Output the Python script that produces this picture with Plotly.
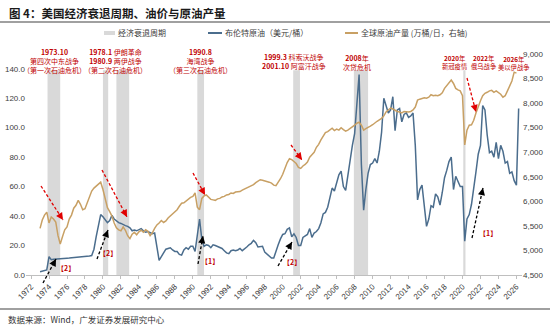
import plotly.graph_objects as go
import pandas as pd

# ---------------- data ----------------
dates = pd.date_range("1973-01-01", "2026-04-01", freq="QS")

brent = [
    2.2, 2.5, 2.9, 3.4,        # 1973
    12.4, 10.4, 10.7, 10.9,    # 1974
    10.6, 10.9, 11.1, 11.3,    # 1975
    11.4, 11.5, 11.6, 11.7,    # 1976
    12.3, 12.4, 12.5, 12.6,    # 1977
    12.7, 12.8, 12.9, 13.2,    # 1978
    17.5, 26.0, 34.0, 41.0,    # 1979
    39.5, 37.5, 35.5, 37.0,    # 1980
    40.5, 38.0, 36.5, 35.5,    # 1981
    35.0, 34.0, 33.5, 33.0,    # 1982
    32.0, 30.0, 30.5, 30.0,    # 1983
    30.5, 31.5, 30.0, 29.0,    # 1984
    29.5, 28.5, 28.0, 28.5,    # 1985
    18.0, 10.0, 12.5, 15.0,    # 1986
    17.5, 18.0, 18.5, 17.0,    # 1987
    16.0, 16.0, 14.0, 13.5,    # 1988
    17.0, 18.5, 17.5, 19.5,    # 1989
    19.5, 16.0, 26.0, 38.0,    # 1990
    24.0, 19.5, 20.5, 20.0,    # 1991
    18.5, 20.5, 20.0, 19.5,    # 1992
    18.5, 18.0, 16.5, 15.0,    # 1993
    14.5, 16.5, 17.0, 16.5,    # 1994
    17.0, 18.0, 16.5, 17.5,    # 1995
    19.0, 20.5, 21.5, 23.5,    # 1996
    22.0, 19.0, 19.5, 19.5,    # 1997
    15.5, 14.0, 12.5, 11.5,    # 1998
    11.5, 16.5, 20.5, 24.5,    # 1999
    27.5, 28.0, 31.0, 32.0,    # 2000
    26.0, 28.0, 25.5, 20.0,    # 2001
    20.0, 25.5, 26.5, 27.5,    # 2002
    31.5, 25.5, 28.5, 29.5,    # 2003
    31.5, 35.5, 41.5, 42.5,    # 2004
    46.0, 52.0, 59.0, 57.0,    # 2005
    62.0, 68.0, 70.5, 60.0,    # 2006
    57.5, 68.0, 75.5, 88.0,    # 2007
    96.0, 120.0, 136.0, 75.0,  # 2008
    44.0, 58.0, 69.0, 75.0,    # 2009
    76.0, 79.0, 76.0, 84.0,    # 2010
    97.0, 120.0, 114.0, 110.0, # 2011
    112.0, 121.0, 98.0, 112.0, # 2012
    113.0, 104.0, 109.0, 110.0,# 2013
    107.0, 108.0, 110.0, 88.0, # 2014
    51.0, 58.0, 61.0, 46.0,    # 2015
    33.0, 38.0, 47.0, 46.0,    # 2016
    55.0, 53.0, 47.5, 56.0,    # 2017
    66.0, 71.0, 77.0, 80.0,    # 2018
    58.0, 67.0, 63.0, 60.0,    # 2019
    60.0, 23.0, 38.0, 41.0,    # 2020
    48.0, 58.0, 70.0, 82.0,    # 2021
    88.0, 115.0, 112.0, 95.0,  # 2022
    83.0, 84.0, 80.0, 90.0,    # 2023
    79.0, 88.0, 84.0, 76.0,    # 2024
    77.0, 69.0, 70.0, 64.0,    # 2025
    61.0, 113.0,               # 2026
]

output = [
    5450, 5620, 5720, 5780,  # 1973
    5560, 5680, 5640, 5580,  # 1974
    5300, 5130, 5280, 5420,  # 1975
    5480, 5640, 5720, 5860,  # 1976
    5920, 6020, 5940, 5830,  # 1977
    5850, 5980, 6080, 6210,  # 1978
    6270, 6310, 6350, 6390,  # 1979
    6240, 6080, 5870, 5790,  # 1980
    5700, 5560, 5460, 5420,  # 1981
    5400, 5480, 5410, 5300,  # 1982
    5240, 5330, 5370, 5320,  # 1983
    5380, 5410, 5370, 5420,  # 1984
    5390, 5300, 5360, 5450,  # 1985
    5520, 5560, 5610, 5570,  # 1986
    5600, 5660, 5700, 5760,  # 1987
    5800, 5830, 5900, 5960,  # 1988
    5970, 6010, 6050, 6080,  # 1989
    6100, 6170, 5880, 5830,  # 1990
    6060, 6110, 6130, 6080,  # 1991
    6040, 6030, 6020, 6050,  # 1992
    6060, 6090, 6100, 6130,  # 1993
    6140, 6170, 6160, 6190,  # 1994
    6190, 6200, 6230, 6250,  # 1995
    6270, 6300, 6320, 6340,  # 1996
    6380, 6420, 6440, 6430,  # 1997
    6420, 6400, 6390, 6370,  # 1998
    6330, 6320, 6380, 6460,  # 1999
    6550, 6680, 6790, 6870,  # 2000
    6850, 6810, 6770, 6690,  # 2001
    6670, 6720, 6750, 6800,  # 2002
    6900, 6950, 7000, 7100,  # 2003
    7160, 7250, 7340, 7400,  # 2004
    7420, 7450, 7490, 7440,  # 2005
    7470, 7450, 7500, 7460,  # 2006
    7430, 7450, 7480, 7520,  # 2007
    7550, 7590, 7610, 7550,  # 2008
    7450, 7480, 7500, 7530,  # 2009
    7560, 7600, 7630, 7660,  # 2010
    7690, 7740, 7820, 7860,  # 2011
    7900, 7880, 7850, 7830,  # 2012
    7820, 7800, 7830, 7820,  # 2013
    7820, 7830, 7860, 7920,  # 2014
    8060, 8080, 8100, 8110,  # 2015
    8100, 8120, 8170, 8150,  # 2016
    8160, 8150, 8170, 8210,  # 2017
    8300, 8350, 8410, 8470,  # 2018
    8400, 8300, 8270, 8250,  # 2019
    8150, 7150, 7450, 7550,  # 2020
    7560, 7650, 7800, 7950,  # 2021
    8050, 8150, 8200, 8220,  # 2022
    8250, 8260, 8220, 8250,  # 2023
    8210, 8180, 8120, 8150,  # 2024
    8250, 8350, 8450, 8630,  # 2025
    8610, None,              # 2026
]

rec_start = ["1973-11-01", "1980-01-01", "1981-07-01", "1990-07-01",
             "2001-03-01", "2007-12-01", "2020-02-01"]
rec_end = ["1975-04-01", "1980-08-01", "1982-12-01", "1991-04-01",
           "2001-12-01", "2009-07-01", "2020-05-01"]
rec_top = 139

tick_years = list(range(1972, 2027, 2))
left_ticks = [0, 20, 40, 60, 80, 100, 120, 140]
right_ticks = list(range(4500, 9001, 500))

title_text = "图 4：美国经济衰退周期、油价与原油产量"
source_text = "数据来源：Wind，广发证券发展研究中心"
legend_labels = ["经济衰退周期", "布伦特原油（美元/桶）", "全球原油产量 (万桶/日，右轴)"]

# ---------------- style ----------------
BLUE = "#4B6D8D"
GOLD = "#C8A064"
GRAY = "#D9D9D9"
RED = "#C00000"
CJK = "Noto Sans CJK SC, Liberation Sans, sans-serif"
LAT = "Liberation Sans, Arial, sans-serif"

W, H = 550, 327
L, R, T, B = 26, 28, 54, 52
PW, PH = W - L - R, H - T - B


def px(x):
    return (x - L) / PW


def py(y):
    return (H - B - y) / PH


fig = go.Figure()
fig.add_trace(go.Scatter(x=dates, y=brent, mode="lines", name=legend_labels[1],
                         line=dict(color=BLUE, width=1.5), showlegend=False))
fig.add_trace(go.Scatter(x=dates, y=output, mode="lines", name=legend_labels[2],
                         yaxis="y2", line=dict(color=GOLD, width=1.5), showlegend=False))

shapes = []
for s, e in zip(rec_start, rec_end):
    shapes.append(dict(type="rect", xref="x", yref="y", x0=s, x1=e, y0=0, y1=rec_top,
                       fillcolor=GRAY, line=dict(width=0), layer="below"))

# title / footer rules
shapes.append(dict(type="line", xref="paper", yref="paper", x0=px(0), x1=px(W),
                   y0=py(22), y1=py(22), line=dict(color="#808080", width=1.5)))
shapes.append(dict(type="line", xref="paper", yref="paper", x0=px(0), x1=px(W),
                   y0=py(309), y1=py(309), line=dict(color="#808080", width=1.5)))

# legend (manual)
shapes.append(dict(type="rect", xref="paper", yref="paper", x0=px(104), x1=px(115),
                   y0=py(35), y1=py(31), fillcolor=GRAY, line=dict(width=0)))
shapes.append(dict(type="line", xref="paper", yref="paper", x0=px(208), x1=px(222),
                   y0=py(33), y1=py(33), line=dict(color=BLUE, width=2)))
shapes.append(dict(type="line", xref="paper", yref="paper", x0=px(345), x1=px(358),
                   y0=py(33), y1=py(33), line=dict(color=GOLD, width=2)))

annotations = []


def text(t, x, y, size=7, color=RED, xanchor="center", family=CJK):
    annotations.append(dict(text=t, x=px(x), y=py(y), xref="paper", yref="paper",
                            showarrow=False, xanchor=xanchor, yanchor="middle",
                            align="center", font=dict(size=size, color=color, family=family)))


text("<b>" + title_text + "</b>", 7, 13, size=11.5, color="#1A1A1A", xanchor="left")
text(source_text, 6, 319, size=8.5, color="#333333", xanchor="left")
text(legend_labels[0], 116, 33, size=8, color="#404040", xanchor="left")
text(legend_labels[1], 223, 33, size=8, color="#404040", xanchor="left")
text(legend_labels[2], 359, 33, size=8, color="#404040", xanchor="left")

text("<b>1973.10</b><br>第四次中东战争<br>（第一次石油危机）", 54, 61)
text("<b>1978.1</b> 伊朗革命<br><b>1980.9</b> 两伊战争<br>（第二次石油危机）", 115, 61)
text("<b>1990.8</b><br>海湾战争<br>（第三次石油危机）", 200, 61)
text("<b>1999.3</b> 科索沃战争<br><b>2001.10</b> 阿富汗战争", 294, 61)
text("<b>2008</b>年<br>次贷危机", 357, 63)
text("<b>2020</b>年<br>新冠疫情", 455, 62, size=6.3)
text("<b>2022</b>年<br>俄乌战争", 484, 62, size=6.3)
text("<b>2026</b>年<br>美以伊战争", 514, 64, size=6.3)

for lab, x, y in [("【2】", 66, 268), ("【2】", 108, 253), ("【1】", 210, 261),
                  ("【2】", 292, 262), ("【1】", 488, 233)]:
    text("<b>" + lab + "</b>", x, y, size=7)


def arrow(tail, head, color):
    shapes.append(dict(type="line", xref="paper", yref="paper",
                       x0=px(tail[0]), y0=py(tail[1]), x1=px(head[0]), y1=py(head[1]),
                       line=dict(color=color, width=1.3, dash="3px,2px")))
    dx, dy = tail[0] - head[0], tail[1] - head[1]
    d = (dx * dx + dy * dy) ** 0.5
    annotations.append(dict(x=px(head[0]), y=py(head[1]), xref="paper", yref="paper",
                            ax=dx / d * 6, ay=dy / d * 6, axref="pixel", ayref="pixel",
                            text="", showarrow=True, arrowhead=2, arrowsize=1.1,
                            arrowwidth=1.3, arrowcolor=color, standoff=0, startstandoff=0))


for t_, h_ in [((43, 283), (56, 259)), ((97, 259), (108, 230)), ((198, 264), (203, 236)),
               ((278, 266), (292, 242)), ((472, 238), (483, 188))]:
    arrow(t_, h_, "#000000")
for t_, h_ in [((41, 186), (63, 220)), ((102, 170), (127, 217)), ((193, 173), (205, 195)),
               ((291, 145), (302, 160)), ((467, 78), (476, 112))]:
    arrow(t_, h_, "#E00000")

tickfont = dict(size=8, color="#404040", family=LAT)

fig.update_layout(
    width=W, height=H,
    margin=dict(l=L, r=R, t=T, b=B, pad=0),
    paper_bgcolor="white", plot_bgcolor="white",
    showlegend=False,
    shapes=shapes, annotations=annotations,
    xaxis=dict(type="date", range=["1971-06-10", "2026-08-15"],
               tickvals=[f"{y}-01-01" for y in tick_years],
               ticktext=[str(y) for y in tick_years],
               tickangle=-45, tickfont=tickfont, showgrid=False, zeroline=False,
               showline=True, linecolor="#BFBFBF", linewidth=1,
               ticks="outside", ticklen=3, tickcolor="#BFBFBF", automargin=False),
    yaxis=dict(range=[0, 150], tickvals=left_ticks, tickformat=".1f",
               tickfont=tickfont, showgrid=False, zeroline=False, showline=False,
               automargin=False),
    yaxis2=dict(range=[4500, 9000], tickvals=right_ticks, tickformat=",d",
                overlaying="y", side="right", tickfont=tickfont, showgrid=False,
                zeroline=False, showline=False, automargin=False),
)

fig.write_html("out.html")
